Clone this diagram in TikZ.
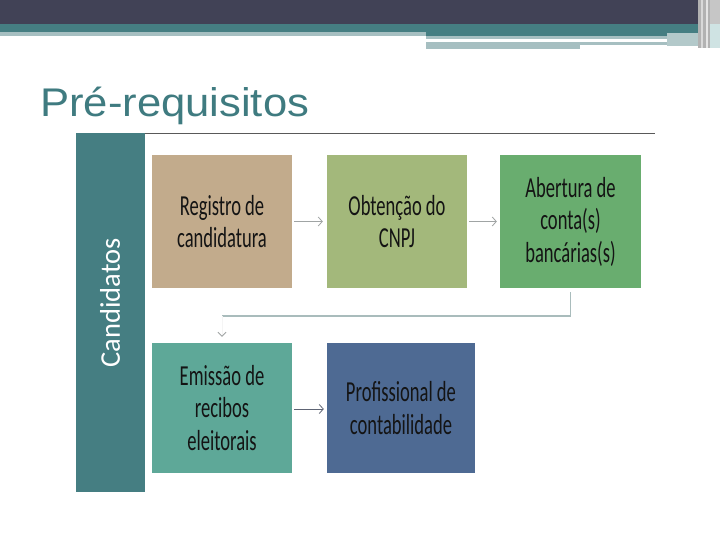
\documentclass[tikz,border=0pt]{standalone}
\usepackage{fontspec}
\setmainfont{Carlito}
\newfontfamily\boxfont[FakeStretch=0.64]{Carlito}
\newfontfamily\titlefont[FakeStretch=1.09]{Liberation Sans}
\usetikzlibrary{arrows.meta,positioning}
\definecolor{topdark}{HTML}{414256}
\definecolor{teal}{HTML}{457E82}
\definecolor{lightteal}{HTML}{A6BFC1}
\definecolor{paleteal}{HTML}{CFE3E3}
\definecolor{titlecol}{HTML}{3F7B80}
\definecolor{cBa}{HTML}{C2AB8C}
\definecolor{cBb}{HTML}{A3B87B}
\definecolor{cBc}{HTML}{69AD6F}
\definecolor{cBd}{HTML}{5EA898}
\definecolor{cBe}{HTML}{4E6A93}
\definecolor{txt}{HTML}{141414}
\definecolor{arrgrey}{HTML}{A0A4A4}
\definecolor{arrdark}{HTML}{5E6474}
\definecolor{connc}{HTML}{A9BCBC}
\tikzset{
  flowbox/.style={rectangle, inner sep=0pt, minimum height=133pt, minimum width=140pt,
    align=center, text=txt, font=\boxfont\fontsize{29}{32.5}\selectfont},
  lightarr/.style={draw=arrgrey, line width=0.8pt, -{Straight Barb[length=4pt,width=9pt]}},
  darkarr/.style={draw=arrdark, line width=0.8pt, -{Straight Barb[length=4pt,width=9pt]}},
  connline/.style={draw=connc, line width=1.2pt},
}
\begin{document}
\begin{tikzpicture}[x=1pt,y=-1pt]
\useasboundingbox (0,0) rectangle (720,540);
\fill[white] (0,0) rectangle (720,540);
% top decoration
\fill[topdark] (0,0) rectangle (720,24);
\fill[teal] (0,24) rectangle (710,32);
\fill[teal] (426,24) rectangle (700,36);
\fill[lightteal] (0,32) rectangle (426,36);
\fill[lightteal] (426,36) rectangle (667,39);
\fill[lightteal] (426,42) rectangle (580,49);
\fill[lightteal] (580,42) rectangle (667,45.5);
\fill[lightteal!85!white] (667,33) rectangle (700,46);
\fill[gray!60] (698,0) rectangle (710,48);
\fill[white!70!gray] (701,0) rectangle (703,48);
\fill[white!80!gray] (706,0) rectangle (708,48);
\fill[gray!45!white] (710,0) rectangle (720,24);
\fill[paleteal] (710,24) rectangle (720,48);
% title
\node[anchor=base west, inner sep=0pt, text=titlecol, font=\titlefont\fontsize{40}{48}\selectfont] (title) at (40,117) {Pré-requisitos};
\draw[draw=gray!70!black, line width=0.8pt] (76,133) -- (655,133);
% side bar
\node[rectangle, fill=teal, inner sep=0pt, minimum width=69pt, minimum height=359pt] (bar) at (110.5,312.5) {};
\node[rotate=90, text=white, inner sep=0pt, font=\fontsize{28.5}{32}\selectfont] (cand) at (110,303) {Candidatos};
% boxes
\node[flowbox, fill=cBa] (b1) at (222,221.5) {Registro de\\candidatura};
\node[flowbox, fill=cBb] (b2) at (397,221.5) {Obtenção do\\CNPJ};
\node[flowbox, fill=cBc, minimum width=141pt] (b3) at (570.5,221.5) {Abertura de\\conta(s)\\bancárias(s)};
\node[flowbox, fill=cBd, minimum height=130pt] (b4) at (222,408) {Emissão de\\recibos\\eleitorais};
\node[flowbox, fill=cBe, minimum height=130pt, minimum width=148pt] (b5) at (401,408) {Profissional de\\contabilidade};
% connectors
\draw[lightarr, shorten <=2pt, shorten >=4pt] (b1.east) -- (b2.west);
\draw[lightarr, shorten <=2pt, shorten >=3pt] (b2.east) -- (b3.west);
\draw[darkarr, shorten <=2pt, shorten >=3pt] (b4.east|-0,409) -- (b5.west|-0,409);
\coordinate (cA) at (222,316);
\draw[connline, shorten <=4pt] (b3.south) |- (cA);
\draw[draw=white!92!gray, line width=0.8pt, shorten >=6pt,
  -{Straight Barb[length=4pt,width=8pt,color=arrgrey]}] (cA) -- (b4.north);
\end{tikzpicture}
\end{document}
